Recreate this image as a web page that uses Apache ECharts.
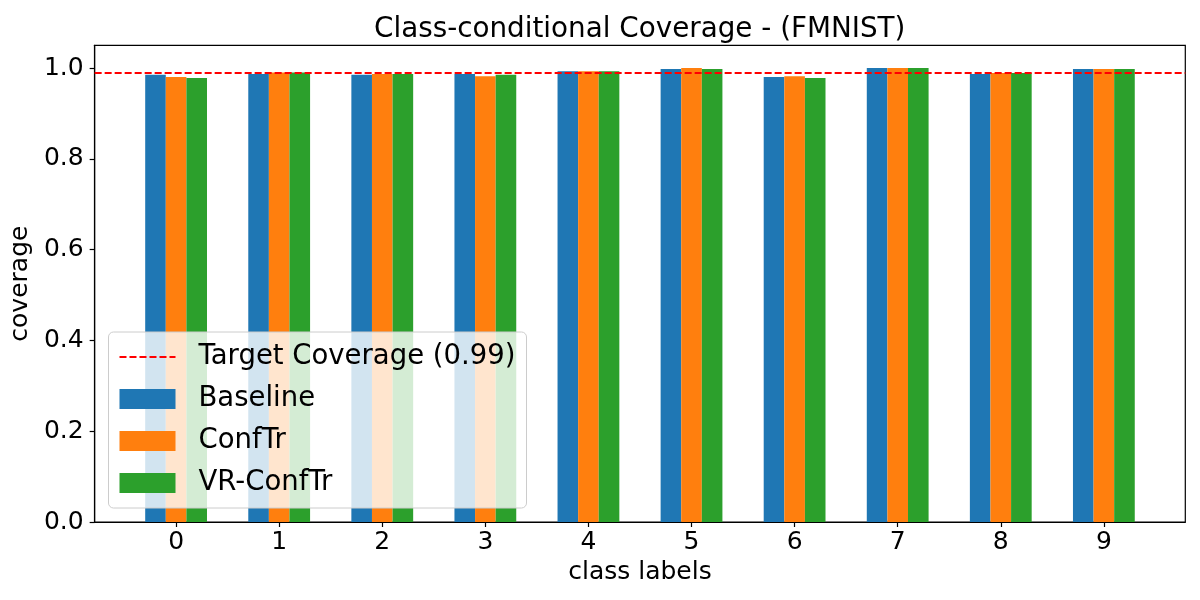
<!DOCTYPE html>
<html>
<head>
<meta charset="utf-8">
<script src="https://cdn.jsdelivr.net/npm/echarts@6/dist/echarts.min.js"></script>
<style>html,body{margin:0;padding:0;background:#fff}#c{width:1200px;height:600px}</style>
</head>
<body>
<div id="c"></div>
<script>
const classLabels = [0, 1, 2, 3, 4, 5, 6, 7, 8, 9];
const baseline = [0.985, 0.987, 0.985, 0.987, 0.993, 0.998, 0.980, 1.000, 0.987, 0.998];
const confTr   = [0.980, 0.990, 0.987, 0.982, 0.993, 1.000, 0.982, 1.000, 0.989, 0.998];
const vrConfTr = [0.978, 0.990, 0.987, 0.985, 0.993, 0.998, 0.978, 1.000, 0.989, 0.998];
const yTicks = [0, 0.2, 0.4, 0.6, 0.8, 1.0];
const target = 0.99;
const seriesNames = ['Baseline', 'ConfTr', 'VR-ConfTr'];
const targetName = 'Target Coverage (0.99)';
const colors = ['#1f77b4', '#ff7f0e', '#2ca02c'];

const font = 'DejaVu Sans';
const chart = echarts.init(document.getElementById('c'), null, {renderer: 'canvas'});

function barSeries(name, vals, color) {
  return {
    name: name, type: 'bar', barWidth: 20.6, barGap: '0%',
    itemStyle: {color: color},
    data: classLabels.map((c, i) => [c, vals[i]]),
    z: 2
  };
}

chart.setOption({
  animation: false,
  title: {
    text: 'Class-conditional Coverage - (FMNIST)',
    left: 369, top: 11,
    textStyle: {fontFamily: font, fontSize: 27.8, fontWeight: 'normal', color: '#000'}
  },
  grid: {left: 93.5, right: 14.7, top: 45.3, bottom: 78, show: true, borderColor: '#000', borderWidth: 1.2, backgroundColor: 'transparent'},
  xAxis: {
    type: 'value', min: -0.79, max: 9.79,
    name: 'class labels', nameLocation: 'middle', nameGap: 38,
    nameTextStyle: {fontFamily: font, fontSize: 25, color: '#000'},
    axisLine: {show: true, onZero: false, lineStyle: {color: '#000', width: 1.2}},
    axisTick: {show: true, customValues: classLabels, length: 5, lineStyle: {color: '#000', width: 1.2}},
    axisLabel: {customValues: classLabels, fontFamily: font, fontSize: 25, color: '#000', margin: 8},
    splitLine: {show: false}
  },
  yAxis: {
    type: 'value', min: 0, max: 1.05,
    name: 'coverage', nameLocation: 'middle', nameGap: 53, nameRotate: 90,
    nameTextStyle: {fontFamily: font, fontSize: 25, color: '#000'},
    axisLine: {show: true, onZero: false, lineStyle: {color: '#000', width: 1.2}},
    axisTick: {show: true, customValues: yTicks, length: 5, lineStyle: {color: '#000', width: 1.2}},
    axisLabel: {customValues: yTicks, formatter: v => v.toFixed(1), fontFamily: font, fontSize: 25, color: '#000', margin: 11},
    splitLine: {show: false}
  },
  legend: {
    orient: 'vertical', left: 108.5, top: 332,
    data: [{name: targetName, itemStyle: {opacity: 0}}].concat(seriesNames.map(n => ({name: n, icon: 'rect'}))),
    itemWidth: 56, itemHeight: 20, itemGap: 14,
    padding: [11, 11, 11, 10],
    backgroundColor: 'rgba(255,255,255,0.8)', borderColor: '#cccccc', borderWidth: 1, borderRadius: 5,
    textStyle: {fontFamily: font, fontSize: 27.5, lineHeight: 28, color: '#000', padding: [0, 0, 0, 18]},
    z: 10
  },
  series: [
    {
      name: targetName, type: 'line', data: [], symbol: 'none',
      lineStyle: {color: '#ff0000', width: 2, type: [7, 3]},
      itemStyle: {color: '#ff0000'},
      markLine: {
        silent: true, symbol: ['none', 'none'], label: {show: false},
        lineStyle: {color: '#ff0000', width: 2, type: [7, 3]},
        data: [{yAxis: target}]
      },
      z: 5
    },
    barSeries(seriesNames[0], baseline, colors[0]),
    barSeries(seriesNames[1], confTr, colors[1]),
    barSeries(seriesNames[2], vrConfTr, colors[2])
  ]
});
</script>
</body>
</html>
